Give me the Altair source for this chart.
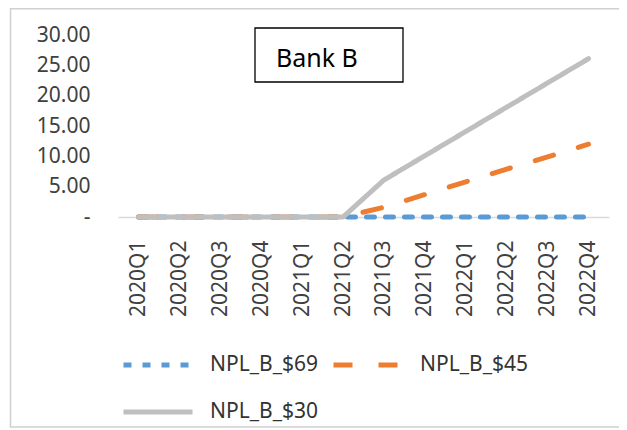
import altair as alt
import pandas as pd

quarters = ["2020Q1", "2020Q2", "2020Q3", "2020Q4", "2021Q1", "2021Q2",
            "2021Q3", "2021Q4", "2022Q1", "2022Q2", "2022Q3", "2022Q4"]
series_names = ["NPL_B_$69", "NPL_B_$45", "NPL_B_$30"]
npl_69 = [0, 0, 0, 0, 0, 0, 0, 0, 0, 0, 0, 0]
npl_45 = [0, 0, 0, 0, 0, 0, 1.6, 3.7, 5.8, 7.9, 9.9, 12.0]
npl_30 = [0, 0, 0, 0, 0, 0, 6.1, 10.1, 14.1, 18.1, 22.1, 26.1]
colors = ["#5B9BD5", "#ED7D31", "#BFBFBF"]
dashes = [[8, 11], [19, 26], [1, 0]]
y_ticks = [0, 5, 10, 15, 20, 25, 30]
title_text = ["Bank B"]

rows = []
for name, vals in zip(series_names, [npl_69, npl_45, npl_30]):
    for q, v in zip(quarters, vals):
        rows.append({"quarter": q, "value": v, "series": name})
df = pd.DataFrame(rows)

FONT = "Noto Sans"
PL, PT = 110, 27  # plot origin inside svg

legend_cfg = dict(
    title=None, orient="none", legendX=3, legendY=293, columns=2, direction="horizontal",
    symbolType="stroke", symbolSize=4761, symbolStrokeWidth=5,
    labelFontSize=21, labelFont=FONT, labelColor="#333333",
    labelOffset=15, columnPadding=4, rowPadding=-23, padding=0,
)

def layer_for(name):
    return alt.Chart(df).transform_filter(alt.datum.series == name).mark_line(
        strokeWidth=5, strokeCap="round", strokeJoin="round"
    ).encode(
        x=alt.X("quarter:O", sort=quarters, axis=alt.Axis(
            title=None, labelAngle=-90, labelFontSize=21, labelFont=FONT,
            labelColor="#404040", ticks=False, domainColor="#D9D9D9",
            domainWidth=1.5, labelPadding=23, grid=False)),
        y=alt.Y("value:Q", scale=alt.Scale(domain=[0, 30], nice=False), axis=alt.Axis(
            title=None, values=y_ticks, grid=False, ticks=False, domain=False,
            labelFontSize=21, labelFont=FONT, labelColor="#404040", labelPadding=28,
            labelExpr="datum.value == 0 ? '-\u00a0\u00a0' : format(datum.value, '.2f')")),
        color=alt.Color("series:N", scale=alt.Scale(domain=series_names, range=colors),
                        legend=alt.Legend(**legend_cfg)),
        strokeDash=alt.StrokeDash("series:N", scale=alt.Scale(domain=series_names, range=dashes),
                                  legend=alt.Legend(**legend_cfg)),
    )

tdf = pd.DataFrame({"t": title_text})
frame = alt.Chart(tdf).mark_rect(fillOpacity=0, stroke="#D0D0D0", strokeWidth=1.5, clip=False).encode(
    x=alt.value(2.5 - PL), x2=alt.value(640), y=alt.value(0.8 - PT), y2=alt.value(419 - PT))
box = alt.Chart(tdf).mark_rect(fillOpacity=0, stroke="#000000", strokeWidth=1.3).encode(
    x=alt.value(255 - 118), x2=alt.value(403 - 118), y=alt.value(28 - 35), y2=alt.value(82 - 35))
label = alt.Chart(tdf).mark_text(align="left", baseline="alphabetic", fontSize=25, font=FONT,
                                 color="#000000").encode(
    x=alt.value(276 - 118), y=alt.value(67 - 35), text="t:N")

chart = alt.layer(
    frame, layer_for(series_names[0]), layer_for(series_names[1]), layer_for(series_names[2]),
    box, label
).properties(
    width=491, height=182,
    autosize=alt.AutoSizeParams(type="none"),
    padding={"left": PL, "top": PT, "right": 10, "bottom": 211},
).configure(font=FONT).configure_view(stroke=None)

chart.save("out.html", embed_options={"renderer": "svg", "actions": False})
